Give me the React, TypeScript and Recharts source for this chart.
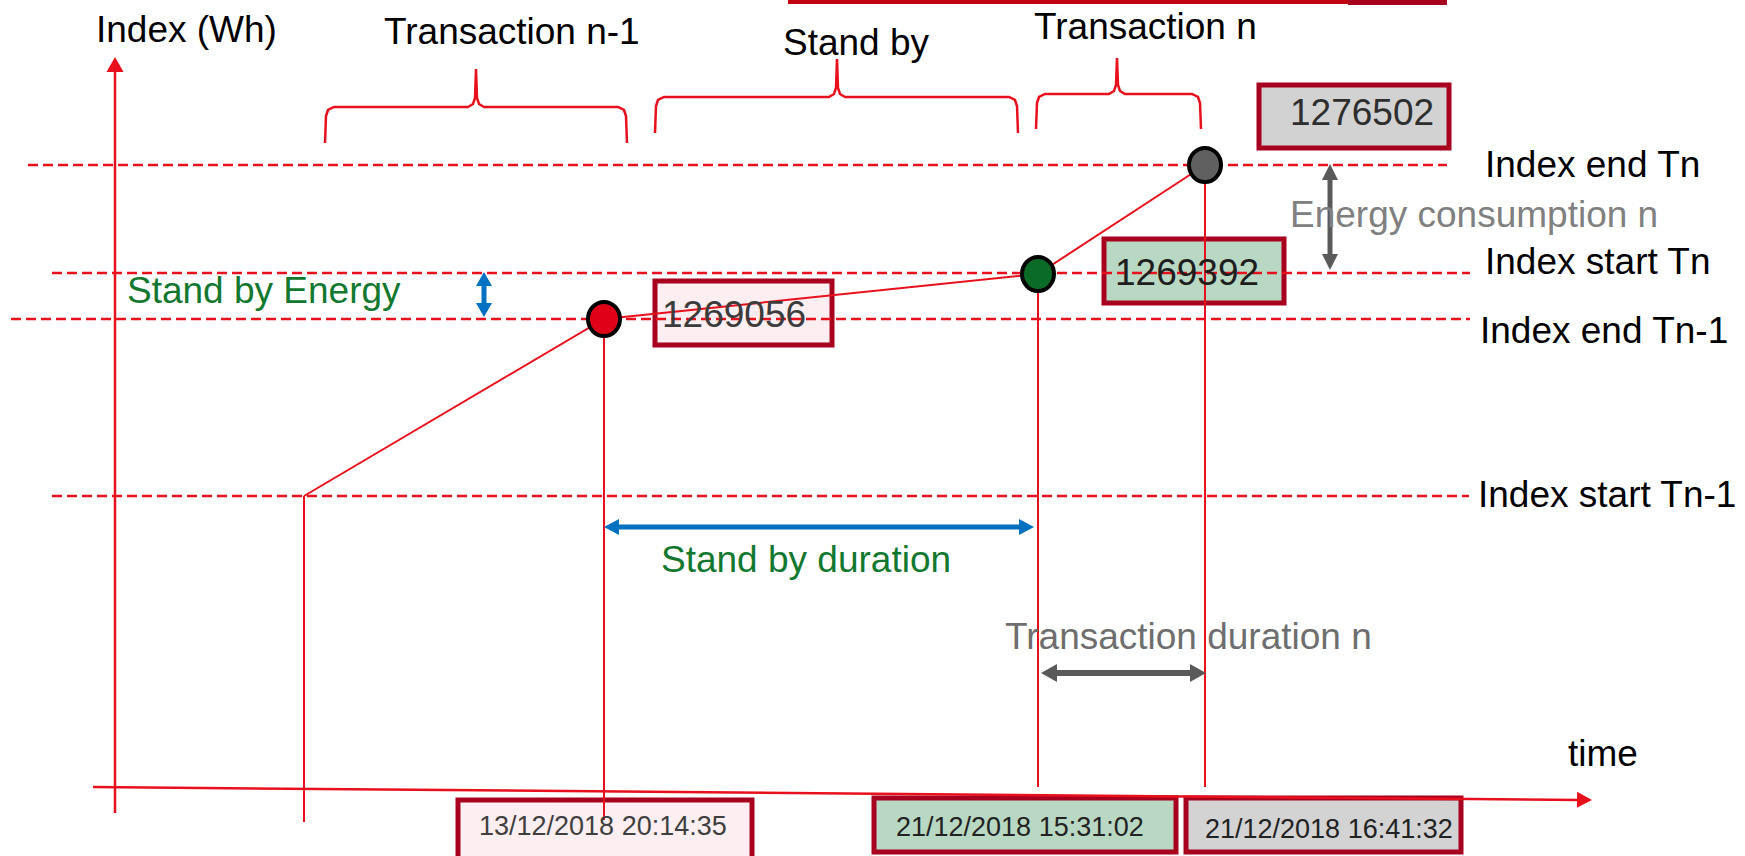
import React from 'react';
import { ComposedChart, XAxis, YAxis, Line, Scatter, ReferenceLine, ReferenceArea } from 'recharts';

// ---- data (schematic diagram values) ----
const periodLabels = ['Transaction n-1', 'Stand by', 'Transaction n'];
const levelLabels = ['Index end Tn', 'Index start Tn', 'Index end Tn-1', 'Index start Tn-1'];
const levelValues = [691, 583, 537, 360]; // schematic index heights
const eventNames = ['Start Tn-1', 'End Tn-1', 'Start Tn', 'End Tn'];
const eventTimes = [304, 604, 1038, 1205]; // schematic time positions
const eventLevels = [360, 537, 582, 691]; // schematic index at each event
const indexReadings = ['1269056', '1269392', '1276502'];
const timestamps = ['13/12/2018 20:14:35', '21/12/2018 15:31:02', '21/12/2018 16:41:32'];
const axisTitles = ['Index (Wh)', 'time'];
const measureLabels = ['Stand by Energy', 'Stand by duration', 'Energy consumption n', 'Transaction duration n'];

const W = 1745;
const H = 856;
const FONT = '"Liberation Sans", Arial, Helvetica, sans-serif';
const RED = '#e8101c';
const DARKRED = '#a8001f';
const BLUE = '#0070c0';
const GREY = '#5a5a5a';
const GREEN_TXT = '#13782f';
const PINK = '#fdeef1';
const MINT = '#b9d8c3';
const SILVER = '#d3d3d3';

const TextShape = (p: any) => {
  const d = p.payload;
  return (
    <text x={p.cx} y={p.cy} fill={d.fill} fontSize={d.size} fontFamily={FONT} textAnchor="start">
      {d.t}
    </text>
  );
};

const HeadShape = (p: any) => {
  const d = p.payload;
  return (
    <polygon
      points={`0,0 ${-d.L},${-d.w / 2} ${-d.L},${d.w / 2}`}
      fill={d.fill}
      transform={`translate(${p.cx},${p.cy}) rotate(${d.a})`}
    />
  );
};

const MarkerShape = (p: any) => (
  <ellipse cx={p.cx} cy={p.cy} rx={16} ry={17} fill={p.payload.fill} stroke="#000" strokeWidth={4} />
);

const bracket = (x0: number, x1: number, tip: number, yTop: number, yH: number, yEnd: number) => [
  { x: x0, y: yEnd },
  { x: x0 + 1, y: yH - 9 },
  { x: x0 + 3, y: yH - 3 },
  { x: x0 + 9, y: yH },
  { x: tip - 8, y: yH },
  { x: tip - 3, y: yH + 3 },
  { x: tip - 1, y: yH + 9 },
  { x: tip, y: yTop },
  { x: tip + 1, y: yH + 9 },
  { x: tip + 3, y: yH + 3 },
  { x: tip + 8, y: yH },
  { x: x1 - 9, y: yH },
  { x: x1 - 3, y: yH - 3 },
  { x: x1 - 1, y: yH - 9 },
  { x: x1, y: yEnd },
];

export default function App() {
  const path = eventTimes.map((t, i) => ({ x: t, y: eventLevels[i], name: eventNames[i] }));
  const markerFills = ['#e00018', '#0a6a28', '#606060'];
  const markers = path.slice(1).map((p, i) => ({ ...p, fill: markerFills[i] }));

  const dashStarts = [28, 52, 11, 52];
  const dashEnds = [1447, 1470, 1470, 1469];
  const dropEnds = [34, 36, 69, 69];

  const brackets = [
    bracket(325, 627, 476, 787, 749, 713),
    bracket(655, 1018, 837, 797, 759, 723),
    bracket(1036, 1201, 1117, 798, 762, 727),
  ];

  const boxes = [
    { x1: 655, x2: 832, y1: 511, y2: 575, fill: PINK },
    { x1: 1104, x2: 1284, y1: 553, y2: 617, fill: MINT },
    { x1: 1259, x2: 1449, y1: 708, y2: 771, fill: '#d2d2d2' },
    { x1: 458, x2: 752, y1: -14, y2: 56, fill: PINK },
    { x1: 874, x2: 1176, y1: 4, y2: 58, fill: MINT },
    { x1: 1186, x2: 1461, y1: 4, y2: 58, fill: SILVER },
  ];

  const texts = [
    { x: 96, y: 814, t: axisTitles[0], fill: '#000', size: 37 },
    { x: 384, y: 812, t: periodLabels[0], fill: '#000', size: 37 },
    { x: 783, y: 801, t: periodLabels[1], fill: '#000', size: 37 },
    { x: 1034, y: 817, t: periodLabels[2], fill: '#000', size: 37 },
    { x: 1485, y: 679, t: levelLabels[0], fill: '#000', size: 37 },
    { x: 1485, y: 582, t: levelLabels[1], fill: '#000', size: 37 },
    { x: 1480, y: 513, t: levelLabels[2], fill: '#000', size: 37 },
    { x: 1478, y: 349, t: levelLabels[3], fill: '#000', size: 37 },
    { x: 127, y: 553, t: measureLabels[0], fill: GREEN_TXT, size: 37 },
    { x: 661, y: 284, t: measureLabels[1], fill: GREEN_TXT, size: 37 },
    { x: 1290, y: 629, t: measureLabels[2], fill: '#808080', size: 37 },
    { x: 1005, y: 207, t: measureLabels[3], fill: '#6e6e6e', size: 37 },
    { x: 1568, y: 90, t: axisTitles[1], fill: '#000', size: 37 },
    { x: 662, y: 529, t: indexReadings[0], fill: '#3c3c3c', size: 37 },
    { x: 1115, y: 571, t: indexReadings[1], fill: '#1e1e1e', size: 37 },
    { x: 1290, y: 731, t: indexReadings[2], fill: '#2e2e2e', size: 37 },
    { x: 479, y: 21, t: timestamps[0], fill: '#3f3f3f', size: 27 },
    { x: 896, y: 20, t: timestamps[1], fill: '#222', size: 27 },
    { x: 1205, y: 18, t: timestamps[2], fill: '#222', size: 27 },
  ];

  const shafts = [
    { a: { x: 484, y: 577 }, b: { x: 484, y: 546 }, c: BLUE, w: 5 },
    { a: { x: 611, y: 329 }, b: { x: 1027, y: 329 }, c: BLUE, w: 5 },
    { a: { x: 1330, y: 684 }, b: { x: 1330, y: 594 }, c: GREY, w: 5 },
    { a: { x: 1049, y: 183 }, b: { x: 1198, y: 183 }, c: GREY, w: 6 },
  ];

  const heads = [
    { x: 484, y: 584, a: -90, L: 14, w: 16, fill: BLUE },
    { x: 484, y: 539, a: 90, L: 14, w: 16, fill: BLUE },
    { x: 604, y: 329, a: 180, L: 15, w: 16, fill: BLUE },
    { x: 1034, y: 329, a: 0, L: 15, w: 16, fill: BLUE },
    { x: 1330, y: 692, a: -90, L: 16, w: 16, fill: GREY },
    { x: 1330, y: 586, a: 90, L: 16, w: 16, fill: GREY },
    { x: 1041, y: 183, a: 180, L: 16, w: 18, fill: GREY },
    { x: 1206, y: 183, a: 0, L: 16, w: 18, fill: GREY },
    { x: 115, y: 799, a: -90, L: 15, w: 17, fill: RED },
    { x: 1592, y: 56, a: 0.5, L: 15, w: 16, fill: RED },
  ];

  return (
    <div style={{ position: 'absolute', left: 0, top: 0, width: W, height: H, background: '#fff', overflow: 'hidden' }}>
      <ComposedChart width={W} height={H} margin={{ top: 0, right: 0, bottom: 0, left: 0 }}>
        <XAxis type="number" dataKey="x" domain={[0, W]} hide allowDataOverflow />
        <YAxis type="number" dataKey="y" domain={[0, H]} hide allowDataOverflow />

        {/* cut-off frame at the top */}
        <ReferenceArea x1={788} x2={1447} y1={852} y2={856} fill="#c00010" fillOpacity={1} ifOverflow="visible" />
        <ReferenceArea x1={1348} x2={1447} y1={851} y2={856} fill={DARKRED} fillOpacity={1} ifOverflow="visible" />

        {boxes.map((b, i) => (
          <ReferenceArea
            key={`box${i}`}
            x1={b.x1}
            x2={b.x2}
            y1={b.y1}
            y2={b.y2}
            fill={b.fill}
            fillOpacity={1}
            stroke={DARKRED}
            strokeWidth={5}
            ifOverflow="visible"
          />
        ))}

        <Scatter data={texts} dataKey="y" shape={TextShape} isAnimationActive={false} />

        {levelValues.map((v, i) => (
          <ReferenceLine
            key={`lvl${i}`}
            segment={[{ x: dashStarts[i], y: v }, { x: dashEnds[i], y: v }]}
            stroke={RED}
            strokeWidth={2.5}
            strokeDasharray="10 5"
            ifOverflow="visible"
          />
        ))}

        {/* axes */}
        <ReferenceLine segment={[{ x: 115, y: 43 }, { x: 115, y: 790 }]} stroke={RED} strokeWidth={2.5} ifOverflow="visible" />
        <ReferenceLine segment={[{ x: 93, y: 69 }, { x: 1580, y: 56.1 }]} stroke={RED} strokeWidth={2.5} ifOverflow="visible" />

        {/* drop lines */}
        {path.map((p, i) => (
          <ReferenceLine
            key={`drop${i}`}
            segment={[{ x: p.x, y: p.y }, { x: p.x, y: dropEnds[i] }]}
            stroke={RED}
            strokeWidth={2}
            ifOverflow="visible"
          />
        ))}

        {brackets.map((b, i) => (
          <Line
            key={`br${i}`}
            data={b}
            dataKey="y"
            type="linear"
            stroke={RED}
            strokeWidth={2.5}
            dot={false}
            activeDot={false}
            isAnimationActive={false}
          />
        ))}

        <Line data={path} dataKey="y" type="linear" stroke={RED} strokeWidth={2} dot={false} activeDot={false} isAnimationActive={false} />

        {shafts.map((s, i) => (
          <ReferenceLine key={`sh${i}`} segment={[s.a, s.b]} stroke={s.c} strokeWidth={s.w} ifOverflow="visible" />
        ))}

        <Scatter data={heads} dataKey="y" shape={HeadShape} isAnimationActive={false} />
        <Scatter data={markers} dataKey="y" shape={MarkerShape} isAnimationActive={false} />
      </ComposedChart>
    </div>
  );
}
